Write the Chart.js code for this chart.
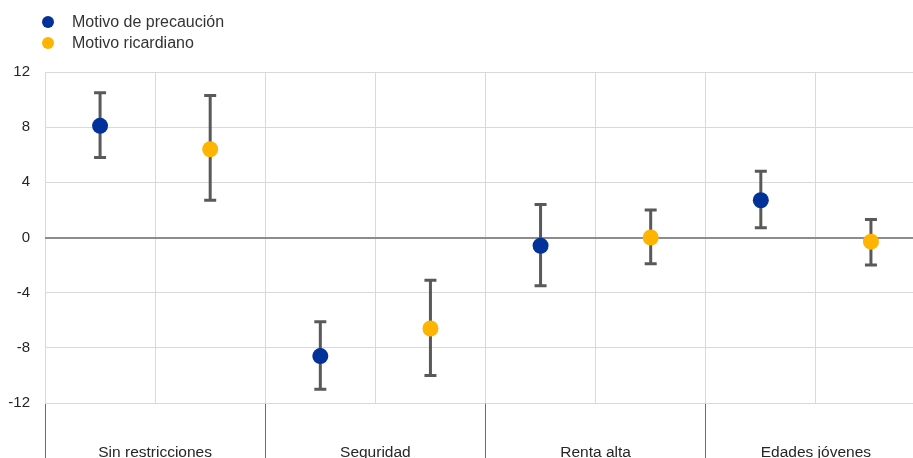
<!DOCTYPE html>
<html>
<head>
<meta charset="utf-8">
<script src="https://cdn.jsdelivr.net/npm/chart.js@4/dist/chart.umd.min.js"></script>
<style>
html, body { margin: 0; padding: 0; overflow: hidden; background: #fff; }
#wrap { position: relative; width: 934px; height: 458px; }
#legend { position: absolute; left: 42px; top: 11px; font: 16px "Liberation Sans", Arial, sans-serif; color: #333; }
.item { display: flex; align-items: center; height: 21px; }
.dot { width: 12px; height: 12px; border-radius: 50%; margin-right: 18px; }
</style>
</head>
<body>
<div id="wrap">
  <canvas id="chart"></canvas>
  <div id="legend"></div>
</div>
<script>
// **********************************************
// Data

const categories = ['Sin restricciones', 'Seguridad', 'Renta alta', 'Edades jóvenes'];
const seriesNames = ['Motivo de precaución', 'Motivo ricardiano'];
const seriesColors = ['#003299', '#ffb400'];

const precautionValues = [8.1, -8.6, -0.6, 2.7];
const precautionLow = [5.8, -11.0, -3.5, 0.7];
const precautionHigh = [10.5, -6.1, 2.4, 4.8];

const ricardianValues = [6.4, -6.6, 0.0, -0.3];
const ricardianLow = [2.7, -10.0, -1.9, -2.0];
const ricardianHigh = [10.3, -3.1, 2.0, 1.3];

const yTicks = [-12, -8, -4, 0, 4, 8, 12];


// **********************************************
// Spread each group over two slots (one per series)

const slotLabels = [];
for (const c of categories) {
    slotLabels.push(c + ' 1', c + ' 2');
}

function toSlots(values, slot) {
    let out = [];
    values.forEach((v) => {
        if (slot === 0) out.push(v, null);
        else out.push(null, v);
    });
    return out;
}


// **********************************************
// Legend (html)

seriesNames.forEach((name, i) => {
    let item = document.createElement('div');
    item.className = 'item';
    item.innerHTML = `<span class='dot' style='background:${seriesColors[i]}'></span><span>${name}</span>`;
    document.getElementById('legend').appendChild(item);
});


// **********************************************
// Error bars plugin

const errorBars = {
    id: 'errorBars',
    beforeDatasetsDraw(chart) {
        const ctx = chart.ctx;
        const x = chart.scales.x;
        const y = chart.scales.y;
        ctx.save();
        ctx.strokeStyle = '#595959';
        ctx.lineWidth = 3;
        ctx.lineCap = 'butt';
        chart.data.datasets.forEach((ds) => {
            ds.data.forEach((v, j) => {
                if (v === null) return;
                const px = x.getPixelForValue(j);
                const top = y.getPixelForValue(ds.errHigh[j]);
                const bottom = y.getPixelForValue(ds.errLow[j]);
                ctx.beginPath();
                ctx.moveTo(px, top);
                ctx.lineTo(px, bottom);
                ctx.moveTo(px - 6, top);
                ctx.lineTo(px + 6, top);
                ctx.moveTo(px - 6, bottom);
                ctx.lineTo(px + 6, bottom);
                ctx.stroke();
            });
        });
        ctx.restore();
    }
};


// **********************************************
// Chart

const font = { family: '"Liberation Sans", Arial, sans-serif' };

let ctx = document.getElementById('chart').getContext('2d');
let chart = new Chart(ctx, {
    type: 'line',
    data: {
        labels: slotLabels,
        datasets: [
            {
                label: seriesNames[0],
                data: toSlots(precautionValues, 0),
                errLow: toSlots(precautionLow, 0),
                errHigh: toSlots(precautionHigh, 0),
                xAxisID: 'x',
                showLine: false,
                pointRadius: 8,
                pointHoverRadius: 8,
                pointBorderWidth: 0,
                backgroundColor: seriesColors[0],
                borderColor: seriesColors[0]
            },
            {
                label: seriesNames[1],
                data: toSlots(ricardianValues, 1),
                errLow: toSlots(ricardianLow, 1),
                errHigh: toSlots(ricardianHigh, 1),
                xAxisID: 'x',
                showLine: false,
                pointRadius: 8,
                pointHoverRadius: 8,
                pointBorderWidth: 0,
                backgroundColor: seriesColors[1],
                borderColor: seriesColors[1]
            }
        ]
    },
    options: {
        responsive: true,
        maintainAspectRatio: false,
        animation: false,
        layout: {
            padding: { top: 72, right: 1, left: 0, bottom: 0 }
        },
        plugins: {
            legend: { display: false },
            tooltip: { enabled: false }
        },
        scales: {
            x: {
                type: 'category',
                position: 'bottom',
                offset: true,
                grid: {
                    offset: true,
                    color: '#d9d9d9',
                    lineWidth: 1,
                    drawTicks: false
                },
                border: { display: false },
                ticks: { display: false }
            },
            x2: {
                type: 'category',
                position: 'bottom',
                labels: categories,
                offset: true,
                grid: {
                    offset: true,
                    drawOnChartArea: false,
                    color: '#6e6e6e',
                    lineWidth: 1,
                    tickLength: 55
                },
                border: { display: false },
                ticks: {
                    color: '#262626',
                    font: { ...font, size: 15.5 },
                    padding: -15,
                    maxRotation: 0,
                    autoSkip: false
                },
                afterFit: (scale) => { scale.height = 55; }
            },
            y: {
                min: -12,
                max: 12,
                afterBuildTicks: (scale) => {
                    scale.ticks = yTicks.map((v) => ({ value: v }));
                },
                grid: {
                    color: (c) => c.tick && c.tick.value === 0 ? '#8c8c8c' : '#d9d9d9',
                    lineWidth: (c) => c.tick && c.tick.value === 0 ? 2 : 1,
                    drawTicks: false
                },
                border: { display: false },
                ticks: {
                    color: '#262626',
                    font: { ...font, size: 15 },
                    padding: 15
                },
                afterFit: (scale) => { scale.width = 45; }
            }
        }
    },
    plugins: [errorBars]
});
</script>
</body>
</html>
